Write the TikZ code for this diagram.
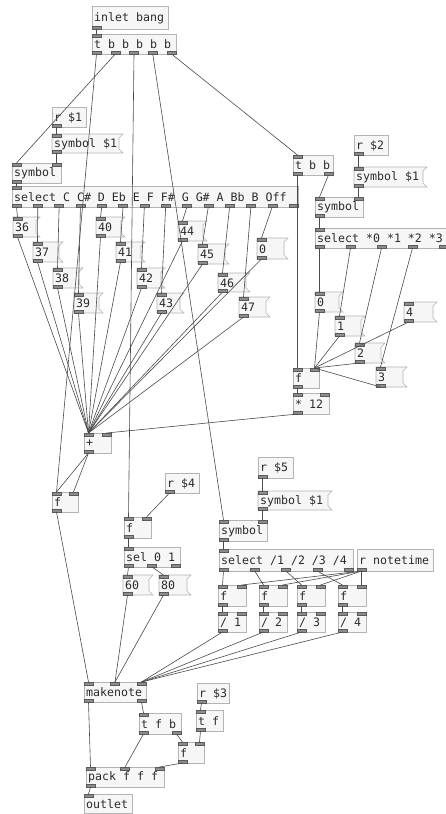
\documentclass[tikz,border=0pt]{standalone}
\usepackage{fontspec}
\newfontfamily\pdmono[WordSpace={1,0,0}]{DejaVu Sans Mono}
\definecolor{boxc}{HTML}{B4B4B4}
\definecolor{boxf}{HTML}{F6F6F6}
\definecolor{tabc}{HTML}{8C8C8C}
\definecolor{tabd}{HTML}{5A5A5A}
\definecolor{wirec}{HTML}{4A4A4A}
\definecolor{txt}{HTML}{2A2A2A}
\newcommand\pdfont{\pdmono\fontsize{11.6pt}{12pt}\selectfont}
\tikzset{
  objshape/.style={draw=boxc, fill=boxf, line width=0.6pt},
  lbl/.style={inner xsep=2pt, inner ysep=0pt, font=\pdfont, text=txt, anchor=west},
  tab/.style={fill=tabc, draw=tabd, line width=0.3pt},
  wire/.style={draw=wirec, line width=0.6pt},
}
% name x0 x1 ytab n letter ycoord
\newcommand\pdio[7]{%
  \ifnum#5>0
    \pgfmathtruncatemacro\nmax{#5-1}%
    \foreach \k in {0,...,\nmax}{%
      \pgfmathsetmacro\cx{#2+4.5+(#3-#2-9)*\k/max(#5-1,1)}%
      \coordinate (#1-#6\k) at (\cx,#7);
      \draw[tab] (\cx-4.5,#4) rectangle (\cx+4.5,#4+3);
    }%
  \fi
}
% name x0 y0 x1 y1 nin nout text
\newcommand\pdobj[8]{%
  \path[objshape] (#2,#3) rectangle (#4,#5);
  \node[lbl] (#1) at (#2,{(#3+#5)/2+0.5}) {#8};
  \pdio{#1}{#2}{#4}{#3}{#6}{i}{#3}%
  \pdio{#1}{#2}{#4}{#5-3}{#7}{o}{#5}%
}
% name x0 y0 x1 y1 text
\newcommand\pdmsg[6]{%
  \path[objshape] (#2,#3) -- (#4,#3) -- (#4-4,#3+4) -- (#4-4,#5-4) -- (#4,#5) -- (#2,#5) -- cycle;
  \node[lbl] (#1) at (#2,{(#3+#5)/2+0.5}) {#6};
  \pdio{#1}{#2}{#4}{#3}{1}{i}{#3}%
  \pdio{#1}{#2}{#4}{#5-3}{1}{o}{#5}%
}
\begin{document}
\begin{tikzpicture}[x=1pt,y=-1pt]
\fill[white] (0,0) rectangle (446,814);
\useasboundingbox (0,0) rectangle (446,814);

% top section
\pdobj{inb}{92}{6}{168}{29}{0}{1}{inlet bang}
\pdobj{tb5}{92}{34}{176}{54}{1}{5}{t b b b b b}
\pdobj{r1}{52}{107}{86}{127}{0}{1}{r \$1}
\pdmsg{sym1}{52}{134}{123}{153}{symbol \$1}
\pdobj{symA}{12}{163}{61}{183}{2}{1}{symbol}
\pdobj{selA}{12}{186}{298}{207}{1}{14}{select C C\# D Eb E F F\# G G\# A Bb B Off}

\pdmsg{m36}{13}{217}{40}{237}{36}
\pdmsg{m37}{33}{242}{63}{262}{37}
\pdmsg{m38}{53}{268}{83}{288}{38}
\pdmsg{m39}{74}{293}{103}{313}{39}
\pdmsg{m40}{96}{217}{125}{237}{40}
\pdmsg{m41}{116}{242}{145}{262}{41}
\pdmsg{m42}{137}{268}{165}{288}{42}
\pdmsg{m43}{157}{293}{184}{313}{43}
\pdmsg{m44}{178}{221}{207}{241}{44}
\pdmsg{m45}{198}{244}{229}{264}{45}
\pdmsg{m46}{218}{273}{250}{292}{46}
\pdmsg{m47}{239}{297}{270}{317}{47}
\pdmsg{m0a}{257}{238}{288}{259}{0}

\pdobj{plus}{84}{433}{111}{453}{2}{1}{+}
\pdobj{fL}{52}{492}{78}{512}{2}{1}{f}

% right octave section
\pdobj{tbb}{293}{155}{333}{175}{1}{2}{t b b}
\pdobj{r2}{354}{135}{388}{155}{0}{1}{r \$2}
\pdmsg{sym2}{354}{167}{427}{187}{symbol \$1}
\pdobj{symB}{315}{197}{363}{217}{2}{1}{symbol}
\pdobj{selB}{315}{228}{448}{248}{1}{5}{select *0 *1 *2 *3}
\pdmsg{b0}{315}{292}{343}{312}{0}
\pdmsg{b1}{335}{316}{365}{336}{1}
\pdmsg{b2}{355}{343}{385}{363}{2}
\pdmsg{b3}{376}{367}{407}{387}{3}
\pdmsg{b4}{404}{302}{437}{322}{4}
\pdobj{fR}{293}{368}{319}{388}{2}{1}{f}
\pdobj{mul}{293}{393}{329}{414}{2}{1}{* 12}

% velocity section
\pdobj{r4}{165}{473}{199}{493}{0}{1}{r \$4}
\pdobj{fM}{124}{517}{151}{538}{2}{1}{f}
\pdobj{sel01}{124}{547}{180}{567}{1}{3}{sel 0 1}
\pdmsg{m60}{123}{575}{153}{595}{60}
\pdmsg{m80}{159}{575}{191}{595}{80}

% duration section
\pdobj{r5}{258}{457}{293}{478}{0}{1}{r \$5}
\pdmsg{sym5}{258}{491}{332}{510}{symbol \$1}
\pdobj{symC}{219}{520}{267}{541}{2}{1}{symbol}
\pdobj{selC}{219}{549}{353}{571}{1}{5}{select /1 /2 /3 /4}
\pdobj{rnote}{357}{549}{433}{571}{0}{1}{r notetime}
\pdobj{f1}{218}{585}{246}{606}{2}{1}{f}
\pdobj{f2}{259}{585}{287}{606}{2}{1}{f}
\pdobj{f3}{297}{585}{325}{606}{2}{1}{f}
\pdobj{f4}{338}{585}{366}{606}{2}{1}{f}
\pdobj{d1}{218}{612}{246}{632}{2}{1}{/ 1}
\pdobj{d2}{259}{612}{287}{632}{2}{1}{/ 2}
\pdobj{d3}{297}{612}{325}{632}{2}{1}{/ 3}
\pdobj{d4}{338}{612}{366}{632}{2}{1}{/ 4}

% bottom section
\pdobj{mk}{84}{682}{146}{702}{3}{2}{makenote}
\pdobj{tfb}{139}{713}{181}{734}{1}{2}{t f b}
\pdobj{r3}{197}{683}{229}{703}{0}{1}{r \$3}
\pdobj{tf}{196}{710}{223}{731}{1}{1}{t f}
\pdobj{fS}{178}{742}{204}{763}{2}{1}{f}
\pdobj{pack}{86}{767}{164}{787}{3}{1}{pack f f f}
\pdobj{outl}{84}{794}{132}{813}{1}{0}{outlet}

% wires
\draw[wire] (inb-o0) -- (tb5-i0);
\draw[wire] (tb5-o0) -- (fL-i0);
\draw[wire] (tb5-o1) -- (symA-i0);
\draw[wire] (tb5-o2) -- (fM-i0);
\draw[wire] (tb5-o3) -- (symC-i0);
\draw[wire] (tb5-o4) -- (tbb-i0);
\draw[wire] (r1-o0) -- (sym1-i0);
\draw[wire] (sym1-o0) -- (symA-i1);
\draw[wire] (symA-o0) -- (selA-i0);
\draw[wire] (selA-o0) -- (m36-i0);
\draw[wire] (selA-o1) -- (m37-i0);
\draw[wire] (selA-o2) -- (m38-i0);
\draw[wire] (selA-o3) -- (m39-i0);
\draw[wire] (selA-o4) -- (m40-i0);
\draw[wire] (selA-o5) -- (m41-i0);
\draw[wire] (selA-o6) -- (m42-i0);
\draw[wire] (selA-o7) -- (m43-i0);
\draw[wire] (selA-o8) -- (m44-i0);
\draw[wire] (selA-o9) -- (m45-i0);
\draw[wire] (selA-o10) -- (m46-i0);
\draw[wire] (selA-o11) -- (m47-i0);
\draw[wire] (selA-o12) -- (m0a-i0);
\foreach \m in {m36,m37,m38,m39,m40,m41,m42,m43,m44,m45,m46,m47,m0a}
  \draw[wire] (\m-o0) -- (plus-i0);
\draw[wire] (plus-o0) -- (fL-i1);
\draw[wire] (plus-o0) -- (fL-i0);

\draw[wire] (tbb-o0) -- (fR-i0);
\draw[wire] (tbb-o1) -- (symB-i0);
\draw[wire] (r2-o0) -- (sym2-i0);
\draw[wire] (sym2-o0) -- (symB-i1);
\draw[wire] (symB-o0) -- (selB-i0);
\draw[wire] (selB-o0) -- (b0-i0);
\draw[wire] (selB-o1) -- (b1-i0);
\draw[wire] (selB-o2) -- (b2-i0);
\draw[wire] (selB-o3) -- (b3-i0);
\foreach \m in {b0,b1,b2,b3,b4}
  \draw[wire] (\m-o0) -- (fR-i1);
\draw[wire] (fR-o0) -- (mul-i0);
\draw[wire] (mul-o0) -- (plus-i1);

\draw[wire] (r4-o0) -- (fM-i1);
\draw[wire] (fM-o0) -- (sel01-i0);
\draw[wire] (sel01-o0) -- (m60-i0);
\draw[wire] (sel01-o1) -- (m80-i0);
\draw[wire] (m60-o0) -- (mk-i1);
\draw[wire] (m80-o0) -- (mk-i1);
\draw[wire] (fL-o0) -- (mk-i0);

\draw[wire] (r5-o0) -- (sym5-i0);
\draw[wire] (sym5-o0) -- (symC-i1);
\draw[wire] (symC-o0) -- (selC-i0);
\draw[wire] (selC-o0) -- (f1-i0);
\draw[wire] (selC-o1) -- (f2-i0);
\draw[wire] (selC-o2) -- (f3-i0);
\draw[wire] (selC-o3) -- (f4-i0);
\foreach \f in {f1,f2,f3,f4}
  \draw[wire] (rnote-o0) -- (\f-i1);
\draw[wire] (f1-o0) -- (d1-i0);
\draw[wire] (f2-o0) -- (d2-i0);
\draw[wire] (f3-o0) -- (d3-i0);
\draw[wire] (f4-o0) -- (d4-i0);
\foreach \d in {d1,d2,d3,d4}
  \draw[wire] (\d-o0) -- (mk-i2);

\draw[wire] (mk-o0) -- (pack-i0);
\draw[wire] (mk-o1) -- (tfb-i0);
\draw[wire] (tfb-o0) -- (pack-i1);
\draw[wire] (tfb-o1) -- (fS-i0);
\draw[wire] (r3-o0) -- (tf-i0);
\draw[wire] (tf-o0) -- (fS-i1);
\draw[wire] (fS-o0) -- (pack-i2);
\draw[wire] (pack-o0) -- (outl-i0);
\end{tikzpicture}
\end{document}
